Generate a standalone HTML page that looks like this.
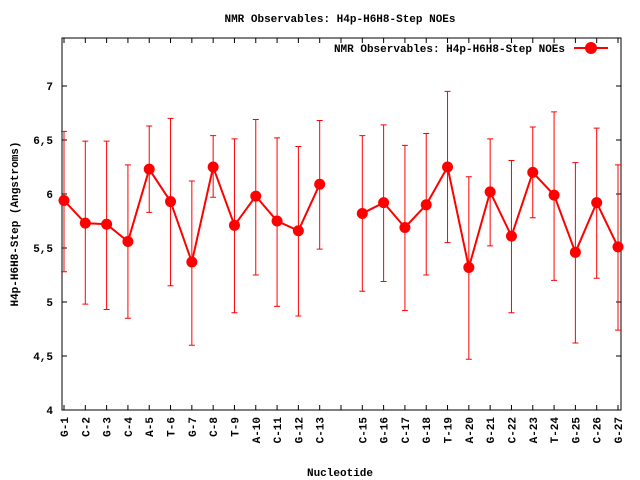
<!DOCTYPE html>
<html><head><meta charset="utf-8"><style>
html,body{margin:0;padding:0;background:#fff;}
svg{display:block;}
text{font-family:"Liberation Mono",monospace;font-weight:bold;font-size:11px;fill:#000;}
</style></head><body>
<svg id="chart" width="640" height="480" viewBox="0 0 640 480">
<text x="340" y="22" text-anchor="middle">NMR Observables: H4p-H6H8-Step NOEs</text>
<text x="340" y="476" text-anchor="middle">Nucleotide</text>
<text transform="translate(18,224) rotate(-90)" text-anchor="middle">H4p-H6H8-Step (Angstroms)</text>
<g id="axes"></g>
<g id="series"></g>
<g>
<text x="565" y="52" text-anchor="end">NMR Observables: H4p-H6H8-Step NOEs</text>
<line x1="574" y1="48" x2="608" y2="48" stroke="#f00" stroke-width="2"/>
<circle cx="591" cy="48" r="6" fill="#f00"/>
</g>
</svg>
<script>
const categories=["G-1","C-2","G-3","C-4","A-5","T-6","G-7","C-8","T-9","A-10","C-11","G-12","C-13",null,"C-15","G-16","C-17","G-18","T-19","A-20","G-21","C-22","A-23","T-24","G-25","C-26","G-27"];
const values=[5.94,5.73,5.72,5.56,6.23,5.93,5.37,6.25,5.71,5.98,5.75,5.66,6.09,null,5.82,5.92,5.69,5.90,6.25,5.32,6.02,5.61,6.20,5.99,5.46,5.92,5.51];
const lows=[5.28,4.98,4.93,4.85,5.83,5.15,4.60,5.97,4.90,5.25,4.96,4.87,5.49,null,5.10,5.19,4.92,5.25,5.55,4.47,5.52,4.90,5.78,5.20,4.62,5.22,4.74];
const highs=[6.58,6.49,6.49,6.27,6.63,6.70,6.12,6.54,6.51,6.69,6.52,6.44,6.68,null,6.54,6.64,6.45,6.56,6.95,6.16,6.51,6.31,6.62,6.76,6.29,6.61,6.27];
const yTicks=[4,4.5,5,5.5,6,6.5,7];
const yTickLabels=["4","4,5","5","5,5","6","6,5","7"];
const L=62,R=621,T=38,B=410;
const X=i=>64+(i)*(618-64)/26;
const Y=v=>B-(v-4)*108;
const NS="http://www.w3.org/2000/svg";
function mk(p,tag,at){const e=document.createElementNS(NS,tag);for(const k in at)e.setAttribute(k,at[k]);p.appendChild(e);return e;}
const ax=document.getElementById('axes');
let fr=mk(ax,'rect',{x:L,y:T,width:R-L,height:B-T,fill:'none',stroke:'#000','stroke-width':1});


yTicks.forEach((v,i)=>{const y=Y(v);
let t1=mk(ax,'line',{x1:L,y1:y,x2:L+5,y2:y,stroke:'#000'});


let t2=mk(ax,'line',{x1:R-5,y1:y,x2:R,y2:y,stroke:'#000'});


let tx=mk(ax,'text',{x:L-9,y:y+4,'text-anchor':'end'});tx.textContent=yTickLabels[i];


});
categories.forEach((c,i)=>{const x=X(i);
let a=mk(ax,'line',{x1:x,y1:B,x2:x,y2:B-5,stroke:'#000'});


let b=mk(ax,'line',{x1:x,y1:T,x2:x,y2:T+5,stroke:'#000'});


if(c){let t=mk(ax,'text',{transform:`translate(${x+4},${B+7}) rotate(-90)`,'text-anchor':'end'});t.textContent=c;

}
});
const sg=document.getElementById('series');
let seg=[],d='';
values.forEach((v,i)=>{if(v==null){seg=[];return;}d+=(seg.length?'L':'M')+X(i)+' '+Y(v);seg.push(i);});
let pl=mk(sg,'path',{d:d,fill:'none',stroke:'#f00','stroke-width':2});


values.forEach((v,i)=>{if(v==null)return;const x=X(i);
let e=mk(sg,'path',{d:`M${x} ${Y(lows[i])}V${Y(highs[i])}M${x-3} ${Y(lows[i])}h6M${x-3} ${Y(highs[i])}h6`,stroke:'#f00','stroke-width':1,fill:'none'});


let p=mk(sg,'circle',{cx:x,cy:Y(v),r:5.5,fill:'#f00'});


});
</script>
</body></html>
